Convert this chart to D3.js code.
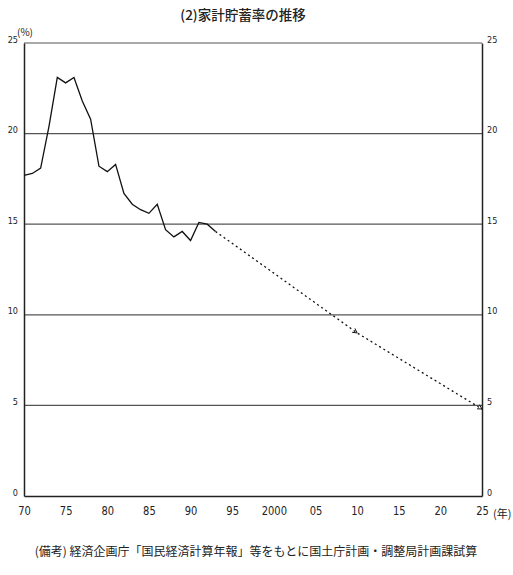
<!DOCTYPE html>
<html><head><meta charset="utf-8">
<script src="https://cdn.jsdelivr.net/npm/d3@7"></script>
<style>
body{margin:0;background:#fff;}
svg{display:block;}
</style></head>
<body>
<svg id="chart" width="513" height="575"></svg>
<script>
const actualYears = [1970,1971,1972,1973,1974,1975,1976,1977,1978,1979,1980,1981,1982,1983,1984,1985,1986,1987,1988,1989,1990,1991,1992,1993];
const actualValues = [17.7,17.8,18.1,20.4,23.1,22.8,23.1,21.8,20.8,18.2,17.9,18.3,16.7,16.1,15.8,15.6,16.1,14.7,14.3,14.6,14.1,15.1,15.0,14.6];
const projYears = [1993,2000,2010,2025];
const projValues = [14.6,12.3,9.0,4.8];
const xTickYears = [1970,1975,1980,1985,1990,1995,2000,2005,2010,2015,2020,2025];
const xTickLabels = ["70","75","80","85","90","95","2000","05","10","15","20","25"];
const yTicks = [0,5,10,15,20,25];

const svg = d3.select("#chart");
const L=24, R=482, T=43, B=496;
const x = d3.scaleLinear().domain([1970,2025]).range([L,R]);
const y = d3.scaleLinear().domain([0,25]).range([B,T]);
const font = "'Noto Sans CJK JP', sans-serif";

// title
svg.append("text").attr("x",243).attr("y",20).attr("text-anchor","middle")
  .attr("font-family",font).attr("font-size",13.5).attr("font-weight",500).attr("fill","#222")
  .text("(2)家計貯蓄率の推移");

// gridlines
svg.append("g").selectAll("line").data(yTicks.filter(d=>d>0)).join("line")
  .attr("x1",L).attr("x2",R).attr("y1",d=>y(d)).attr("y2",d=>y(d))
  .attr("stroke","#555").attr("stroke-width",1.2);

// axes
const leftAxis = d3.axisLeft(y).tickValues(yTicks).tickSize(0).tickPadding(6);
const gl = svg.append("g").attr("transform",`translate(${L},0)`).call(leftAxis);
const rightAxis = d3.axisRight(y).tickValues(yTicks).tickSize(0).tickPadding(5);
const gr = svg.append("g").attr("transform",`translate(${R},0)`).call(rightAxis);
const bottomAxis = d3.axisBottom(x).tickValues(xTickYears).tickSize(0).tickPadding(10)
  .tickFormat((d,i)=>xTickLabels[i]);
const gb = svg.append("g").attr("transform",`translate(0,${B})`).call(bottomAxis);
[gl,gr].forEach(g=>{
  g.select(".domain").attr("stroke","#222").attr("stroke-width",1.5);
  g.selectAll("text").attr("font-family","'DejaVu Sans Condensed', sans-serif").attr("font-size",9).attr("fill","#222").attr("dy","-0.1em");
});
gb.select(".domain").attr("stroke","#222").attr("stroke-width",1.5);
gb.selectAll("text").attr("font-family","'Liberation Sans Narrow','DejaVu Sans Condensed',sans-serif")
  .attr("font-size",13).attr("fill","#222").attr("transform","scale(0.85,1)");

// unit labels
svg.append("text").attr("x",17).attr("y",36).attr("font-family",font).attr("font-size",10).attr("fill","#222").text("(%)");
svg.append("text").attr("x",493).attr("y",518).attr("font-family",font).attr("font-size",11).attr("fill","#222").text("(年)");

// actual line
const line = d3.line().x(d=>x(d[0])).y(d=>y(d[1]));
svg.append("path").datum(actualYears.map((d,i)=>[d,actualValues[i]]))
  .attr("d",line).attr("fill","none").attr("stroke","#111").attr("stroke-width",1.3);

// projection line
svg.append("path").datum(projYears.map((d,i)=>[d,projValues[i]]))
  .attr("d",line).attr("fill","none").attr("stroke","#111").attr("stroke-width",1.3)
  .attr("stroke-dasharray","2,3");

// arrow markers at 2010 and 2025
[2,3].forEach(i=>{
  const px=x(projYears[i]), py=y(projValues[i]);
  const ang=Math.atan2(y(projValues[i])-y(projValues[i-1]), x(projYears[i])-x(projYears[i-1]));
  const s=5;
  const p1=[px - s*Math.cos(ang-0.5), py - s*Math.sin(ang-0.5)];
  const p2=[px - s*Math.cos(ang+0.5), py - s*Math.sin(ang+0.5)];
  svg.append("path").attr("d",`M${p1}L${px},${py}L${p2}`).attr("fill","none").attr("stroke","#111").attr("stroke-width",1);
});

// note
svg.append("text").attr("x",256).attr("y",556).attr("text-anchor","middle")
  .attr("font-family",font).attr("font-size",12).attr("fill","#222")
  .text("(備考) 経済企画庁「国民経済計算年報」等をもとに国土庁計画・調整局計画課試算");
</script>
</body></html>
